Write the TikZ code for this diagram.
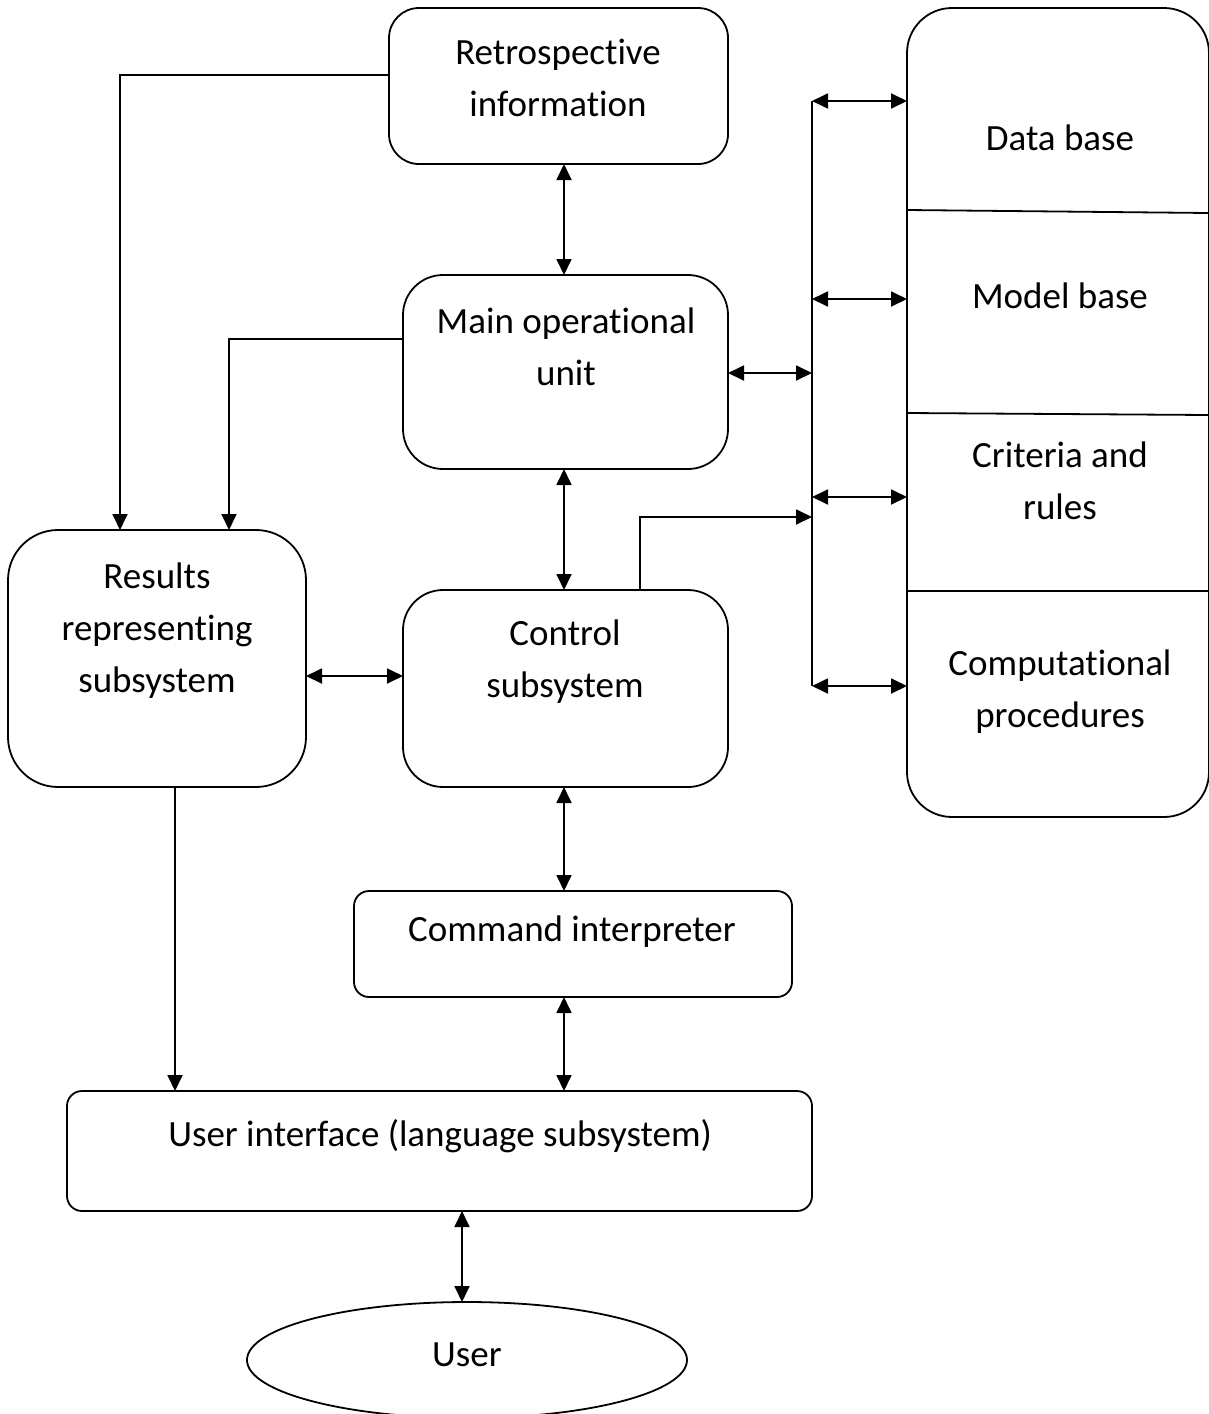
\documentclass[tikz,border=0pt]{standalone}
\usepackage{fontspec}
\setmainfont{Carlito}[Ligatures={NoCommon,NoContextual},Contextuals={NoAlternate}]
\usetikzlibrary{arrows.meta,shapes.geometric}
\begin{document}
\begin{tikzpicture}[x=1pt,y=-1pt,
  line width=1.8pt,
  box/.style={draw, inner sep=0pt, outer sep=0pt},
  txt/.style={font=\fontsize{37}{52}\selectfont, align=center, inner sep=0pt},
  tip/.style={-{Triangle[length=16pt,width=15pt]}},
  dtip/.style={{Triangle[length=16pt,width=15pt]}-{Triangle[length=16pt,width=15pt]}},
]
\useasboundingbox (0,0) rectangle (1208,1414);

% boxes
\node[box, rounded corners=30pt, minimum width=339pt, minimum height=156pt] (retro) at (558.5,86) {};
\node[box, rounded corners=40pt, minimum width=325pt, minimum height=194pt] (mainu) at (565.5,372) {};
\node[box, rounded corners=50pt, minimum width=298pt, minimum height=257pt] (results) at (157,658.5) {};
\node[box, rounded corners=40pt, minimum width=325pt, minimum height=197pt] (control) at (565.5,688.5) {};
\node[box, rounded corners=15pt, minimum width=438pt, minimum height=106pt] (cmd) at (573,944) {};
\node[box, rounded corners=15pt, minimum width=745pt, minimum height=120pt] (ui) at (439.5,1151) {};
\node[box, ellipse, minimum width=440pt, minimum height=116pt] (user) at (467,1360) {};
\node[box, rounded corners=45pt, minimum width=302pt, minimum height=809pt] (rbox) at (1058,412.5) {};

% divider lines in the right box
\draw (rbox.west |- 0,210) -- (rbox.east |- 0,213);
\draw (rbox.west |- 0,413) -- (rbox.east |- 0,415);
\draw (rbox.west |- 0,591) -- (rbox.east |- 0,591);

% texts
\node[txt] (tretro) at (558,78) {Retrospective\\information};
\node[txt] (tmain) at (566,347) {Main operational\\unit};
\node[txt] (tres) at (157,631) {Results\\representing\\subsystem};
\node[txt] (tctl) at (565,662) {Control\\subsystem};
\node[txt] (tcmd) at (572,932) {Command interpreter};
\node[txt] (tui) at (440,1136) {User interface (language subsystem)};
\node[txt] (tuser) at (467,1355) {User};
\node[txt] (tdb) at (1060,138) {Data base};
\node[txt] (tmb) at (1060,296) {Model base};
\node[txt] (tcr) at (1060,481) {Criteria and\\rules};
\node[txt] (tcp) at (1060,692) {Computational\\procedures};

% helper coordinates
\coordinate (vx) at (564,0);
\coordinate (ux) at (462,0);
\coordinate (bustop) at (812,101);
\coordinate (busbot) at (812,686);
\coordinate (b1) at (812,101);
\coordinate (b2) at (812,299);
\coordinate (b3) at (812,497);
\coordinate (b4) at (812,686);
\coordinate (bm) at (812,373);
\coordinate (bc) at (812,517);
\coordinate (cc) at (640,517);
\coordinate (rc) at (120,75);
\coordinate (mc) at (229,339);

% vertical chain
\draw[dtip] (vx |- retro.south) -- (vx |- mainu.north);
\draw[dtip] (vx |- mainu.south) -- (vx |- control.north);
\draw[dtip] (vx |- control.south) -- (vx |- cmd.north);
\draw[dtip] (vx |- cmd.south) -- (vx |- ui.north);
\draw[dtip] (ux |- ui.south) -- (ux |- user.north);

% results <-> control
\draw[dtip] (results.east |- 0,676) -- (control.west |- 0,676);

% bus
\draw (bustop) -- (busbot);
\draw[dtip] (b1) -- (rbox.west |- b1);
\draw[dtip] (b2) -- (rbox.west |- b2);
\draw[dtip] (b3) -- (rbox.west |- b3);
\draw[dtip] (b4) -- (rbox.west |- b4);
\draw[dtip] (mainu.east |- bm) -- (bm);
\draw[tip] (cc |- control.north) -- (cc) -- (bc);

% feeds into results
\draw[tip] (retro.west |- rc) -- (rc) -- (rc |- results.north);
\draw[tip] (mainu.west |- mc) -- (mc) -- (mc |- results.north);
\draw[tip] (175,0 |- results.south) -- (175,0 |- ui.north);
\end{tikzpicture}
\end{document}
